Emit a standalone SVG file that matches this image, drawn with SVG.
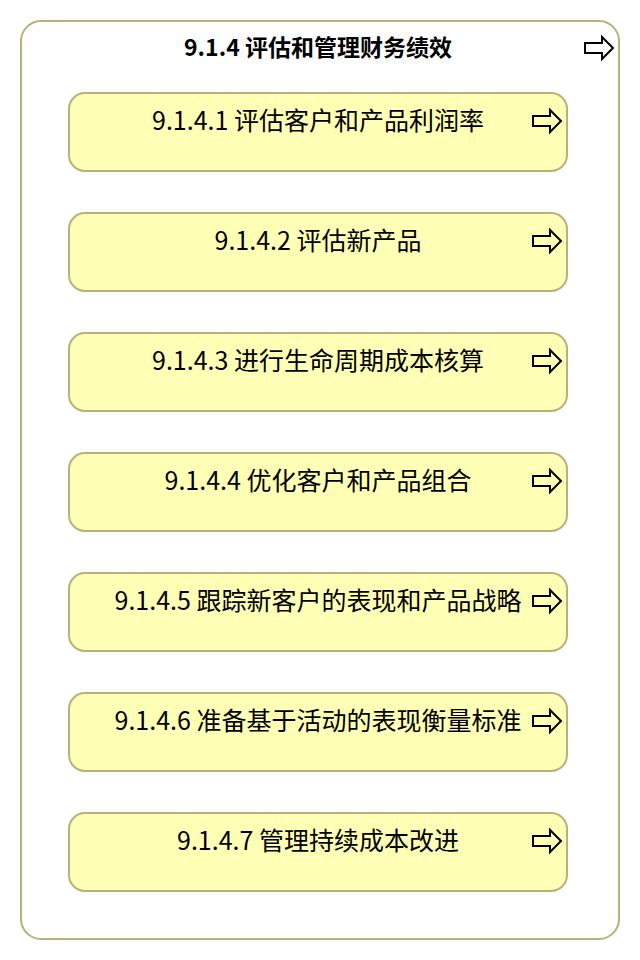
<svg xmlns="http://www.w3.org/2000/svg" width="640" height="960" viewBox="0 0 640 960">
<style>
.outer{fill:#ffffff;stroke:#b3b37b;stroke-width:2}
.box{fill:#ffffb5;stroke:#b3b37b;stroke-width:2}
.t{font-family:"Noto Sans CJK SC","Liberation Sans",sans-serif;font-size:25px;fill:#000;text-anchor:middle}
.title{font-family:"Noto Sans CJK SC","Liberation Sans",sans-serif;font-size:23px;font-weight:bold;fill:#000;text-anchor:middle}
.arr{fill:none;stroke:#000;stroke-width:2;stroke-linejoin:miter}
</style>
<defs>
<path id="ar" class="arr" d="M0,6 H17 V0 L28,11 L17,22 V16 H0 Z"/>
</defs>
<rect width="640" height="960" fill="#ffffff"/>
<g id="n914">
<rect class="outer" x="21" y="21" width="598" height="918" rx="20" ry="20"/>
<text class="title" x="318" y="56">9.1.4 评估和管理财务绩效</text>
<use href="#ar" x="585" y="37"/>
</g>
<g id="n9141">
<rect class="box" x="69" y="93" width="498" height="78" rx="16" ry="16"/>
<text class="t" x="318" y="130">9.1.4.1 评估客户和产品利润率</text>
<use href="#ar" x="533" y="110"/>
</g>
<g id="n9142">
<rect class="box" x="69" y="213" width="498" height="78" rx="16" ry="16"/>
<text class="t" x="318" y="250">9.1.4.2 评估新产品</text>
<use href="#ar" x="533" y="230"/>
</g>
<g id="n9143">
<rect class="box" x="69" y="333" width="498" height="78" rx="16" ry="16"/>
<text class="t" x="318" y="370">9.1.4.3 进行生命周期成本核算</text>
<use href="#ar" x="533" y="350"/>
</g>
<g id="n9144">
<rect class="box" x="69" y="453" width="498" height="78" rx="16" ry="16"/>
<text class="t" x="318" y="490">9.1.4.4 优化客户和产品组合</text>
<use href="#ar" x="533" y="470"/>
</g>
<g id="n9145">
<rect class="box" x="69" y="573" width="498" height="78" rx="16" ry="16"/>
<text class="t" x="318" y="610">9.1.4.5 跟踪新客户的表现和产品战略</text>
<use href="#ar" x="533" y="590"/>
</g>
<g id="n9146">
<rect class="box" x="69" y="693" width="498" height="78" rx="16" ry="16"/>
<text class="t" x="318" y="730">9.1.4.6 准备基于活动的表现衡量标准</text>
<use href="#ar" x="533" y="710"/>
</g>
<g id="n9147">
<rect class="box" x="69" y="813" width="498" height="78" rx="16" ry="16"/>
<text class="t" x="318" y="850">9.1.4.7 管理持续成本改进</text>
<use href="#ar" x="533" y="830"/>
</g>
<g id="connectors"></g>
</svg>
